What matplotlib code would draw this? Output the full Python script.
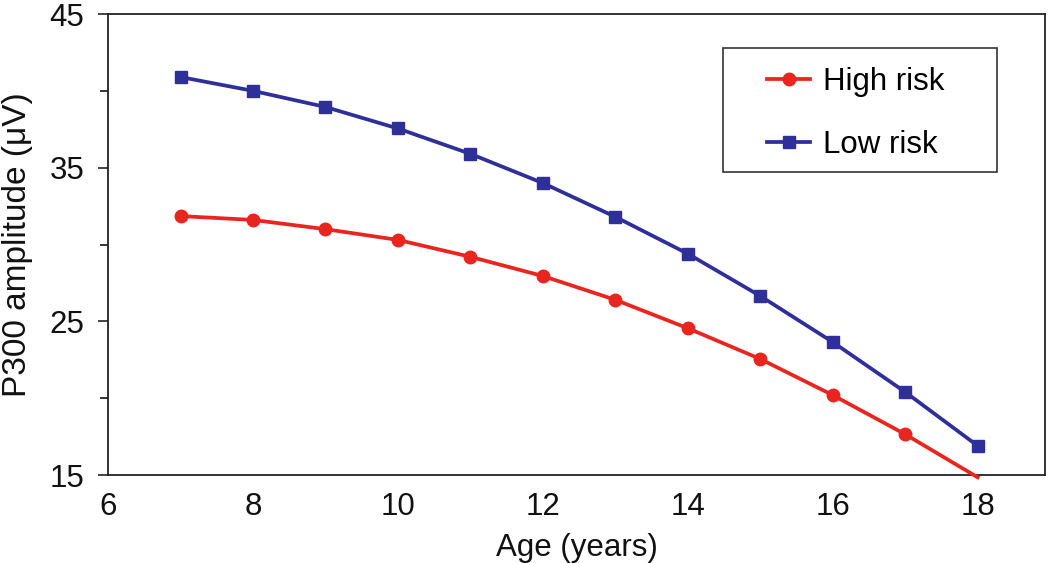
import matplotlib
matplotlib.use("Agg")
import matplotlib.pyplot as plt
from matplotlib.ticker import MultipleLocator
from matplotlib.patches import Rectangle

plt.rcParams['font.family'] = ['Liberation Sans', 'DejaVu Sans']

ages = [7, 8, 9, 10, 11, 12, 13, 14, 15, 16, 17, 18]
high_risk = [31.85, 31.6, 31.0, 30.3, 29.2, 27.95, 26.4, 24.55, 22.55, 20.2, 17.65, 14.85]
low_risk = [40.9, 40.0, 38.95, 37.55, 35.9, 34.0, 31.8, 29.4, 26.65, 23.65, 20.4, 16.9]
x_ticks = [6, 8, 10, 12, 14, 16, 18]
y_ticks = [15, 25, 35, 45]

fig = plt.figure(figsize=(10.5, 5.63), dpi=100)
ax = fig.add_axes([0.1029, 0.1563, 0.8924, 0.8188])

red = '#e8251f'
blue = '#2f2f9a'
ax.plot(ages, high_risk, color=red, lw=2.7, marker='o', ms=9,
        markevery=slice(0, len(ages) - 1), label='High risk', clip_on=False, zorder=3)
ax.plot(ages, low_risk, color=blue, lw=2.7, marker='s', ms=9,
        label='Low risk', clip_on=False, zorder=3)

ax.set_xlim(6, 18.93)
ax.set_ylim(15, 45)
ax.set_xticks(x_ticks)
ax.set_yticks(y_ticks)
ax.yaxis.set_minor_locator(MultipleLocator(5))
ax.tick_params(axis='x', length=0, labelsize=22.5, pad=12, colors='#111111')
ax.tick_params(axis='y', which='major', length=7.2, width=1.1, labelsize=22.5, pad=9.8, colors='#111111')
ax.tick_params(axis='y', which='minor', length=5.8, width=1.1)
for s in ax.spines.values():
    s.set_linewidth(1.3)
    s.set_color('#222222')

ax.set_xlabel('Age (years)', fontsize=22.5, labelpad=8, color='#111111')
ax.set_ylabel('P300 amplitude (\u03bcV)', fontsize=24, labelpad=12, color='#111111')

# legend frame (drawn separately for asymmetric padding)
ax.add_patch(Rectangle((0.6564, 0.6573), 0.2924, 0.269, transform=ax.transAxes,
                       facecolor='white', edgecolor='#333333', lw=1.2, zorder=4))
leg = ax.legend(loc='upper left', bbox_to_anchor=(0.7033, 0.885), fontsize=22.5,
                frameon=False, handlelength=1.38, handletextpad=0.42, borderpad=0,
                labelspacing=1.04, borderaxespad=0)
leg.set_zorder(5)

fig.savefig('out.png', dpi=100)
